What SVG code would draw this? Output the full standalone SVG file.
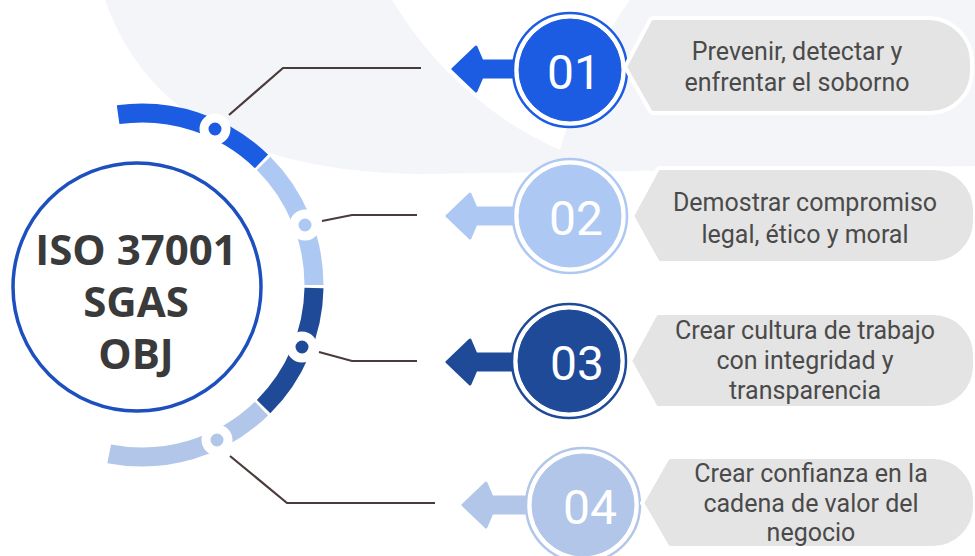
<svg xmlns="http://www.w3.org/2000/svg" xmlns:xlink="http://www.w3.org/1999/xlink" width="975" height="556" viewBox="0 0 975 556">
  <defs>
    <style>
      .boxtxt { font-family: Roboto, "Open Sans", sans-serif; font-size: 25px; fill: #4a4a4a; text-anchor: middle; }
      .num { font-family: Roboto, "Open Sans", sans-serif; font-size: 48px; fill: #ffffff; text-anchor: middle; }
      .main { font-family: "Open Sans", "Liberation Sans", sans-serif; font-size: 42px; font-weight: 700; fill: #3a3a3a; text-anchor: middle; }
      .box { fill: #e4e4e4; stroke: #ffffff; stroke-width: 4; stroke-linejoin: round; }
      .conn { fill: none; stroke: #4a3b3a; stroke-width: 2.2; }
      .seg { fill: none; stroke-width: 19; }
      .dot { stroke: #ffffff; stroke-width: 9; }
      .c1 { fill: #1b5ce3; stroke: #1b5ce3; }
      .c2 { fill: #aec8f4; stroke: #aec8f4; }
      .c3 { fill: #1e4a98; stroke: #1e4a98; }
      .c4 { fill: #b2c6e9; stroke: #b2c6e9; }
      .ring { fill: #ffffff; stroke-width: 2.5; }
      .arr { stroke-width: 3; stroke-linejoin: round; }
    </style>
    <path id="arrow" d="M0,0 L23,-22 L29,-8 L75,-8 L75,8 L29,8 L23,22 Z"/>
  </defs>

  <rect width="975" height="556" fill="#ffffff"/>

  <g id="background">
    <path d="M105,0 C140,100 230,172 420,174 L975,166 L975,0 Z" fill="#f4f5f8"/>
    <path d="M392,0 C420,45 470,110 560,150 C575,100 600,40 630,0 Z" fill="#ffffff"/>
  </g>

  <g id="ring">
    <path class="seg" style="stroke:#1b5ce3" d="M118.1,114.7 A172,172 0 0 1 261.5,161.3"/>
    <path class="seg" style="stroke:#aec8f4" d="M263.6,163.4 A172,172 0 0 1 314,285"/>
    <path class="seg" style="stroke:#1e4a98" d="M314,288 A172,172 0 0 1 263.6,406.6"/>
    <path class="seg" style="stroke:#b2c6e9" d="M261.5,408.7 A172,172 0 0 1 109.2,453.8"/>
    <circle class="dot" cx="215" cy="129" r="11" fill="#1b5ce3"/>
    <circle class="dot" cx="305" cy="225" r="11" fill="#aec8f4"/>
    <circle class="dot" cx="302" cy="347" r="11" fill="#1e4a98"/>
    <circle class="dot" cx="217" cy="440" r="11" fill="#b2c6e9"/>
  </g>

  <g id="connectors">
    <polyline class="conn" points="229,115 283,68 421,68"/>
    <polyline class="conn" points="322,221 352,215 417,215"/>
    <polyline class="conn" points="319,352 352,361 417,361"/>
    <polyline class="conn" points="230,456 287,503 435,503"/>
  </g>

  <g id="center-node">
    <circle cx="137" cy="287" r="124" fill="#ffffff" stroke="#1d4fbf" stroke-width="3.5"/>
    <text class="main" x="136" y="265">ISO 37001</text>
    <text class="main" x="136" y="317">SGAS</text>
    <text class="main" x="136" y="369">OBJ</text>
  </g>

  <g id="node-01">
    <use xlink:href="#arrow" href="#arrow" class="c1 arr" x="453" y="69"/>
    <circle class="ring c1" cx="570" cy="70" r="57" style="fill:#ffffff"/>
    <circle class="c1" cx="570" cy="70" r="51"/>
    <text class="num" x="574" y="89">01</text>
    <path class="box" d="M625,67 L650,20 Q651,18 654,18 L930,18 A44,44 0 0 1 972,60 L972,71 A42,42 0 0 1 930,113 L654,113 Q651,113 650,111 Z"/>
    <text class="boxtxt" x="797" y="60">Prevenir, detectar y</text>
    <text class="boxtxt" x="797" y="91">enfrentar el soborno</text>
  </g>

  <g id="node-02">
    <use xlink:href="#arrow" href="#arrow" class="c2 arr" x="447" y="216"/>
    <circle class="ring c2" cx="570" cy="216" r="57" style="fill:#ffffff"/>
    <circle class="c2" cx="570" cy="216" r="51"/>
    <text class="num" x="576" y="235">02</text>
    <path class="box" d="M632,216 L657,170 Q658,168 661,168 L933,168 A42,42 0 0 1 975,210 L975,221 A42,42 0 0 1 933,263 L661,263 Q658,263 657,261 Z"/>
    <text class="boxtxt" x="805" y="211">Demostrar compromiso</text>
    <text class="boxtxt" x="805" y="243">legal, ético y moral</text>
  </g>

  <g id="node-03">
    <use xlink:href="#arrow" href="#arrow" class="c3 arr" x="447" y="362"/>
    <circle class="ring c3" cx="569" cy="361" r="57" style="fill:#ffffff"/>
    <circle class="c3" cx="569" cy="361" r="51"/>
    <text class="num" x="577" y="380">03</text>
    <path class="box" d="M630,361 L655,315 Q656,313 659,313 L933,313 A42,42 0 0 1 975,355 L975,366 A42,42 0 0 1 933,408 L659,408 Q656,408 655,406 Z"/>
    <text class="boxtxt" x="805" y="339">Crear cultura de trabajo</text>
    <text class="boxtxt" x="805" y="369">con integridad y</text>
    <text class="boxtxt" x="805" y="399">transparencia</text>
  </g>

  <g id="node-04">
    <use xlink:href="#arrow" href="#arrow" class="c4 arr" x="463" y="505"/>
    <circle class="ring c4" cx="583" cy="505" r="57" style="fill:#ffffff"/>
    <circle class="c4" cx="583" cy="505" r="51"/>
    <text class="num" x="590" y="524">04</text>
    <path class="box" d="M642,503 L667,459 Q668,457 671,457 L933,457 A42,42 0 0 1 975,499 L975,506 A42,42 0 0 1 933,548 L671,548 Q668,548 667,546 Z"/>
    <text class="boxtxt" x="811" y="482">Crear confianza en la</text>
    <text class="boxtxt" x="811" y="512">cadena de valor del</text>
    <text class="boxtxt" x="811" y="541">negocio</text>
  </g>
</svg>
